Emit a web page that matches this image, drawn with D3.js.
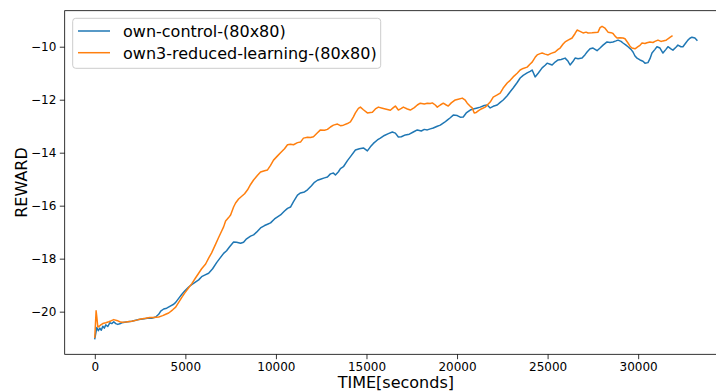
<!DOCTYPE html>
<html>
<head>
<meta charset="utf-8">
<script src="https://cdn.jsdelivr.net/npm/d3@7"></script>
<style>
  html, body { margin: 0; padding: 0; background: #fff; }
  svg { display: block; font-family: "DejaVu Sans", sans-serif; }
</style>
</head>
<body>
<svg id="chart" width="716" height="392"></svg>
<script>
// Series names
const seriesNames = ["own-control-(80x80)", "own3-reduced-learning-(80x80)"];

// own-control-(80x80)
const controlTime = [0,110,193,276,358,441,524,606,717,827,937,1047,1158,1268,1378,1489,1654,1819,2040,2205,2426,2646,2812,2977,3142,3363,3528,3639,3804,3969,4190,4355,4466,4631,4796,4962,5182,5348,5513,5734,5899,6064,6285,6505,6726,6891,7112,7277,7443,7663,7828,8049,8214,8380,8600,8766,8931,9151,9372,9537,9703,9923,10089,10254,10475,10640,10805,10971,11191,11357,11577,11743,11963,12129,12294,12459,12680,12845,13011,13176,13286,13452,13562,13727,13948,14168,14389,14609,14830,15050,15215,15381,15602,15767,15988,16208,16429,16594,16760,16925,17145,17366,17586,17807,18028,18193,18358,18524,18689,18910,19075,19296,19461,19626,19792,20012,20178,20343,20508,20729,20894,21115,21280,21501,21666,21831,21997,22217,22383,22548,22769,22934,23099,23320,23485,23651,23871,24037,24147,24312,24478,24698,24864,24974,25139,25250,25415,25580,25746,25966,26132,26242,26407,26518,26683,26903,27069,27179,27344,27510,27730,27896,28061,28282,28447,28612,28778,28888,29054,29164,29329,29439,29605,29715,29825,29936,30101,30266,30377,30542,30652,30763,30928,31038,31204,31369,31534,31645,31810,31920,32086,32196,32361,32472,32637,32747,32857,32968,33133,33243];
const controlReward = [-21.02,-20.6,-20.72,-20.62,-20.7,-20.55,-20.62,-20.5,-20.56,-20.42,-20.45,-20.38,-20.45,-20.48,-20.46,-20.42,-20.4,-20.38,-20.36,-20.33,-20.3,-20.28,-20.26,-20.24,-20.25,-20.2,-20.1,-19.98,-19.9,-19.87,-19.78,-19.72,-19.65,-19.5,-19.35,-19.22,-19.07,-18.98,-18.9,-18.8,-18.68,-18.62,-18.55,-18.38,-18.15,-18.0,-17.8,-17.7,-17.55,-17.37,-17.38,-17.42,-17.38,-17.25,-17.15,-17.1,-17.0,-16.84,-16.75,-16.7,-16.65,-16.5,-16.42,-16.35,-16.2,-16.1,-16.05,-15.85,-15.6,-15.52,-15.48,-15.4,-15.25,-15.12,-15.04,-15.0,-14.95,-14.92,-14.8,-14.77,-14.84,-14.72,-14.6,-14.53,-14.3,-14.1,-13.9,-13.85,-13.82,-13.93,-13.78,-13.65,-13.52,-13.45,-13.35,-13.28,-13.22,-13.26,-13.41,-13.4,-13.33,-13.3,-13.22,-13.14,-13.18,-13.12,-13.14,-13.1,-13.07,-13.0,-12.96,-12.86,-12.77,-12.68,-12.58,-12.6,-12.66,-12.65,-12.5,-12.39,-12.35,-12.31,-12.28,-12.22,-12.2,-12.31,-12.25,-12.2,-12.1,-12.01,-11.85,-11.7,-11.56,-11.35,-11.18,-11.08,-10.99,-10.93,-10.88,-11.14,-11.0,-10.8,-10.7,-10.62,-10.66,-10.69,-10.58,-10.5,-10.48,-10.43,-10.55,-10.69,-10.55,-10.43,-10.45,-10.43,-10.3,-10.2,-10.08,-10.05,-10.15,-10.05,-9.94,-9.82,-9.84,-9.82,-9.78,-9.75,-9.8,-9.86,-9.94,-10.0,-10.1,-10.2,-10.35,-10.43,-10.5,-10.55,-10.62,-10.6,-10.45,-10.24,-10.1,-10.0,-10.05,-10.24,-10.1,-10.0,-10.08,-10.13,-10.02,-9.94,-10.0,-10.0,-9.85,-9.75,-9.68,-9.64,-9.67,-9.75];

// own3-reduced-learning-(80x80)
const reducedTime = [0,72,110,165,248,331,441,606,772,882,1047,1213,1378,1489,1709,2040,2315,2536,2812,3032,3253,3528,3749,3914,4080,4300,4466,4631,4796,4962,5182,5348,5568,5734,5899,6119,6285,6450,6671,6836,6946,7112,7222,7387,7498,7663,7773,7939,8049,8270,8435,8600,8766,8986,9151,9372,9537,9703,9868,10089,10254,10475,10640,10805,10971,11191,11357,11522,11743,11908,12073,12294,12459,12680,12845,13011,13176,13397,13562,13727,13948,14113,14279,14389,14554,14665,14830,15050,15215,15326,15492,15657,15877,16043,16208,16318,16484,16594,16760,16925,17035,17256,17421,17642,17807,17972,18193,18358,18524,18634,18799,18910,19075,19240,19406,19516,19681,19902,20067,20288,20453,20563,20729,20839,20949,21060,21170,21335,21556,21831,21997,22217,22383,22548,22769,22934,23099,23320,23485,23651,23871,24037,24147,24312,24423,24588,24698,24864,25029,25194,25415,25580,25691,25856,25966,26132,26352,26518,26628,26793,26959,27124,27234,27455,27620,27786,27896,28006,28171,28337,28502,28612,28723,28833,28998,29164,29274,29439,29549,29660,29825,29991,30101,30211,30377,30487,30652,30818,30928,31093,31259,31369,31534,31645,31755,31865];
const reducedReward = [-20.96,-19.97,-20.2,-20.58,-20.55,-20.5,-20.45,-20.42,-20.38,-20.35,-20.3,-20.33,-20.38,-20.4,-20.39,-20.36,-20.32,-20.28,-20.25,-20.22,-20.22,-20.2,-20.15,-20.1,-20.05,-19.93,-19.83,-19.65,-19.47,-19.3,-19.1,-18.95,-18.72,-18.55,-18.38,-18.2,-17.98,-17.78,-17.45,-17.2,-17.04,-16.8,-16.58,-16.45,-16.35,-16.05,-15.9,-15.75,-15.68,-15.55,-15.4,-15.2,-15.03,-14.85,-14.73,-14.68,-14.65,-14.48,-14.28,-14.12,-14.0,-13.85,-13.7,-13.68,-13.7,-13.62,-13.6,-13.45,-13.42,-13.43,-13.4,-13.25,-13.14,-13.15,-13.12,-13.03,-12.96,-12.92,-12.98,-12.96,-12.9,-12.84,-12.65,-12.5,-12.33,-12.28,-12.38,-12.5,-12.48,-12.47,-12.35,-12.28,-12.32,-12.35,-12.38,-12.4,-12.3,-12.24,-12.39,-12.33,-12.28,-12.35,-12.39,-12.3,-12.2,-12.13,-12.16,-12.13,-12.14,-12.12,-12.2,-12.28,-12.2,-12.13,-12.2,-12.24,-12.12,-12.01,-11.98,-11.94,-12.02,-12.13,-12.25,-12.31,-12.5,-12.48,-12.42,-12.35,-12.28,-12.09,-11.9,-11.82,-11.75,-11.56,-11.37,-11.27,-11.14,-11.0,-10.88,-10.82,-10.77,-10.65,-10.58,-10.4,-10.31,-10.26,-10.24,-10.28,-10.31,-10.25,-10.2,-10.1,-10.05,-9.9,-9.82,-9.75,-9.67,-9.5,-9.37,-9.42,-9.48,-9.45,-9.48,-9.47,-9.46,-9.45,-9.28,-9.23,-9.3,-9.45,-9.47,-9.5,-9.6,-9.67,-9.66,-9.67,-9.7,-9.86,-9.98,-10.05,-10.08,-10.0,-9.95,-9.86,-9.88,-9.85,-9.82,-9.84,-9.8,-9.75,-9.8,-9.78,-9.76,-9.7,-9.65,-9.6];

// Axis ticks
const xTicks = [0, 5000, 10000, 15000, 20000, 25000, 30000];
const yTicks = [-20, -18, -16, -14, -12, -10];

const colors = ["#1f77b4", "#ff7f0e"];

const series = [
  controlTime.map((t, i) => ({ t, r: controlReward[i] })),
  reducedTime.map((t, i) => ({ t, r: reducedReward[i] }))
];

// Plot box; the right edge runs slightly past the page
const plot = { left: 64.7, top: 10.7, right: 727, bottom: 354.3 };

const allT = controlTime.concat(reducedTime);
const allR = controlReward.concat(reducedReward);
const [tMin, tMax] = d3.extent(allT);
const [rMin, rMax] = d3.extent(allR);
const tPad = (tMax - tMin) * 0.05;
const rPad = (rMax - rMin) * 0.05;

const x = d3.scaleLinear().domain([tMin - tPad, tMax + tPad]).range([plot.left, plot.right]);
const y = d3.scaleLinear().domain([rMin - rPad, rMax + rPad]).range([plot.bottom, plot.top]);

const svg = d3.select("#chart");

svg.append("defs").append("clipPath").attr("id", "plot-clip")
  .append("rect")
  .attr("x", plot.left).attr("y", plot.top)
  .attr("width", plot.right - plot.left).attr("height", plot.bottom - plot.top);

// Lines
const line = d3.line().x(d => x(d.t)).y(d => y(d.r));
const lines = svg.append("g").attr("clip-path", "url(#plot-clip)");
series.forEach((s, i) => {
  lines.append("path")
    .datum(s)
    .attr("d", line)
    .attr("fill", "none")
    .attr("stroke", colors[i])
    .attr("stroke-width", 1.5)
    .attr("stroke-linejoin", "round")
    .attr("stroke-linecap", "square");
});

// Axes
const fmt = d3.format("d");
const xAxis = d3.axisBottom(x).tickValues(xTicks).tickFormat(fmt).tickSizeInner(4.9).tickSizeOuter(0).tickPadding(3.5);
const yAxis = d3.axisLeft(y).tickValues(yTicks).tickFormat(d3.format("d")).tickSizeInner(4.9).tickSizeOuter(0).tickPadding(3.5);

const gx = svg.append("g").attr("transform", `translate(0,${plot.bottom})`).call(xAxis);
const gy = svg.append("g").attr("transform", `translate(${plot.left},0)`).call(yAxis);
[gx, gy].forEach(g => {
  g.select(".domain").remove();
  g.selectAll(".tick line").attr("stroke", "#000").attr("stroke-width", 0.8);
  g.selectAll(".tick text").attr("fill", "#000")
    .style("font-family", "'DejaVu Sans', sans-serif").style("font-size", "12px");
});

// Frame
svg.append("rect")
  .attr("x", plot.left).attr("y", plot.top)
  .attr("width", plot.right - plot.left).attr("height", plot.bottom - plot.top)
  .attr("fill", "none").attr("stroke", "#000").attr("stroke-width", 0.8);

// Axis titles
svg.append("text")
  .attr("x", (plot.left + plot.right) / 2).attr("y", 388)
  .attr("text-anchor", "middle").attr("font-size", 16).attr("fill", "#000")
  .text("TIME[seconds]");
svg.append("text")
  .attr("transform", `translate(26.7,${(plot.top + plot.bottom) / 2}) rotate(-90)`)
  .attr("text-anchor", "middle").attr("font-size", 16).attr("fill", "#000")
  .text("REWARD");

// Legend
const legend = svg.append("g");
legend.append("rect")
  .attr("x", 72.7).attr("y", 18.3).attr("width", 308).attr("height", 50)
  .attr("rx", 3).attr("ry", 3)
  .attr("fill", "#fff").attr("fill-opacity", 0.8)
  .attr("stroke", "#cccccc").attr("stroke-width", 1);
seriesNames.forEach((name, i) => {
  const yy = 31 + i * 21.7;
  legend.append("line")
    .attr("x1", 78).attr("x2", 110).attr("y1", yy).attr("y2", yy)
    .attr("stroke", colors[i]).attr("stroke-width", 1.5);
  legend.append("text")
    .attr("x", 123).attr("y", yy + 5.8)
    .attr("font-size", 16).attr("fill", "#000")
    .text(name);
});
</script>
</body>
</html>
